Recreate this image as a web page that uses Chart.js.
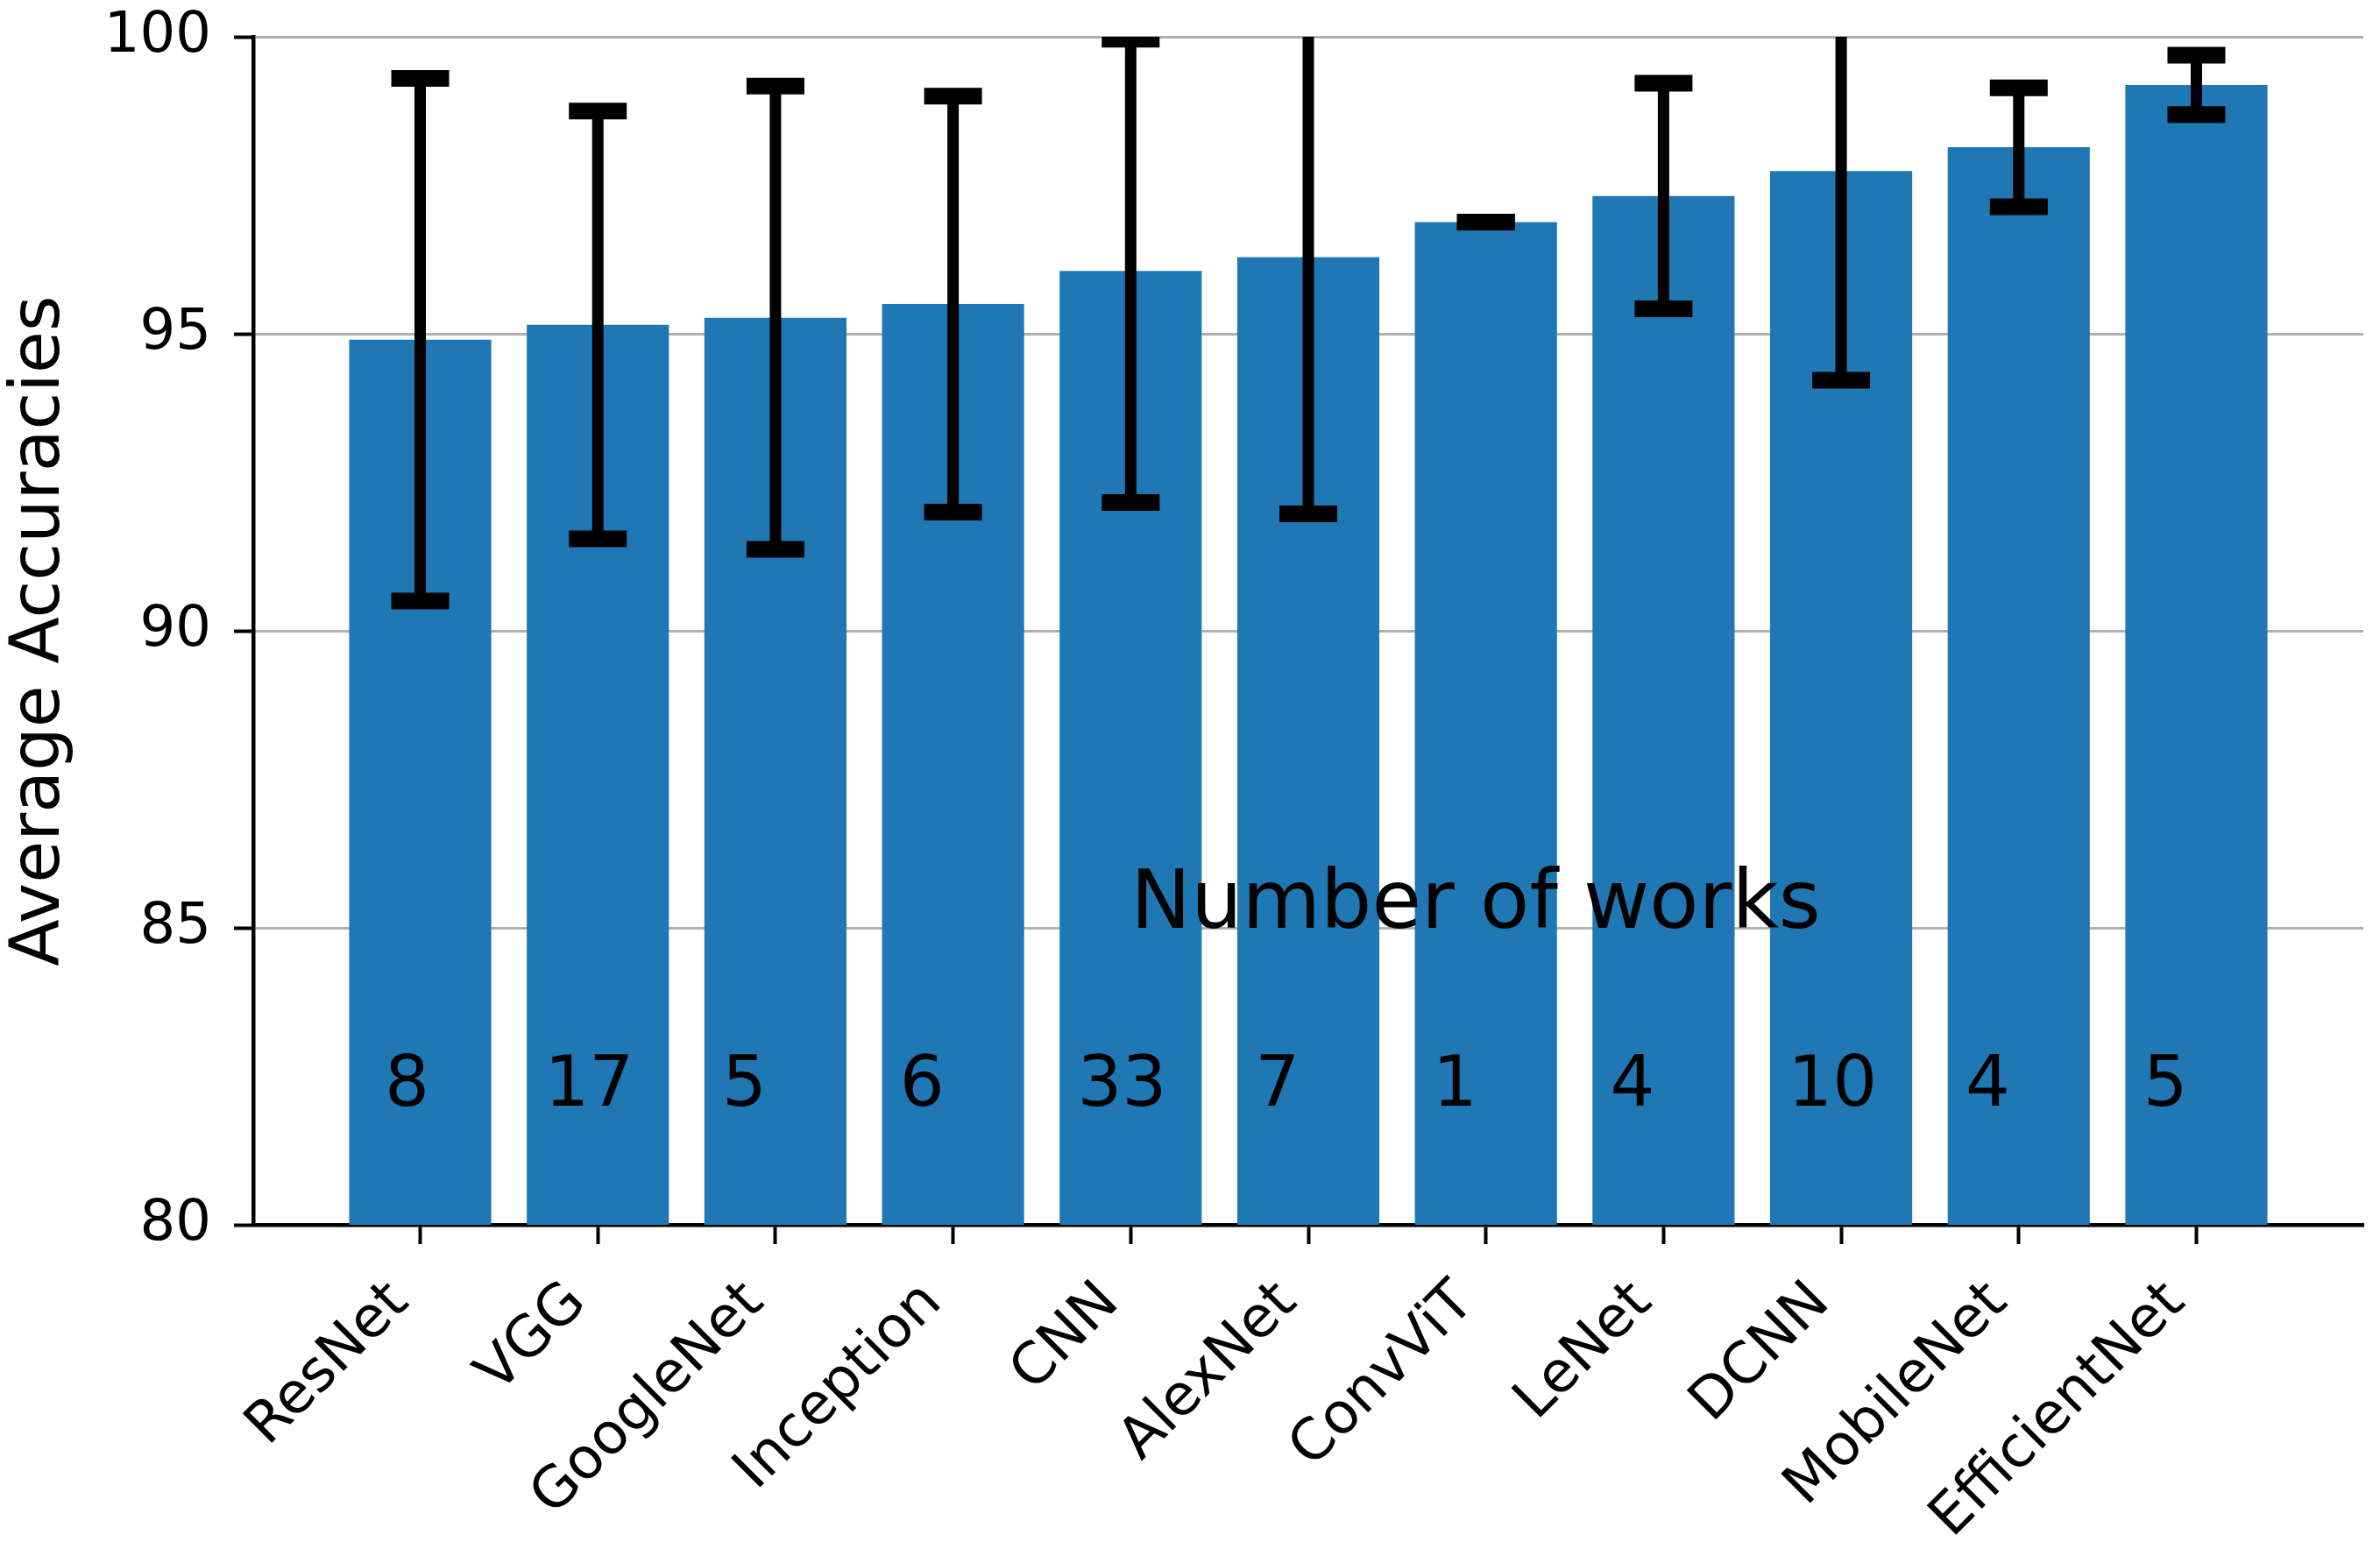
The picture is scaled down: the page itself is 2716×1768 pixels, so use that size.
<!DOCTYPE html>
<html>
<head>
<meta charset="utf-8">
<script src="https://cdn.jsdelivr.net/npm/chart.js@4.4.1/dist/chart.umd.min.js"></script>
<style>
  html, body { margin: 0; padding: 0; background: #ffffff; }
  canvas { display: block; }
</style>
</head>
<body>
<canvas id="c" width="2716" height="1768"></canvas>
<script>
// ---- data ----
const categories = ["ResNet", "VGG", "GoogleNet", "Inception", "CNN", "AlexNet", "ConvViT", "LeNet", "DCNN", "MobileNet", "EfficientNet"];
const meanAccuracy = [94.9, 95.15, 95.27, 95.5, 96.06, 96.29, 96.88, 97.32, 97.74, 98.14, 99.19];
const accuracyError = [4.4, 3.6, 3.9, 3.5, 3.9, 4.32, 0, 1.9, 3.52, 1.0, 0.5];
const workCounts = [8, 17, 5, 6, 33, 7, 1, 4, 10, 4, 5];
const yTicks = [80, 85, 90, 95, 100];
const annotationText = "Number of works";

// ---- styling ----
const FONT = '"DejaVu Sans", "Liberation Sans", sans-serif';
const BAR_COLOR = '#1f77b4';
const countShift = [-0.2, -0.3, -0.3, -0.3, -0.3, -0.3, -0.3, -0.3, -0.3, -0.3, -0.3];

const overlay = {
  id: 'overlay',
  afterDraw(chart) {
    const { ctx, chartArea, scales: { x, y } } = chart;
    ctx.save();
    ctx.beginPath();
    ctx.rect(chartArea.left, chartArea.top, chartArea.right - chartArea.left, chartArea.bottom - chartArea.top);
    ctx.clip();
    ctx.strokeStyle = '#000000';
    ctx.lineCap = 'butt';
    meanAccuracy.forEach((m, i) => {
      const px = x.getPixelForValue(i);
      const pTop = y.getPixelForValue(m + accuracyError[i]);
      const pBot = y.getPixelForValue(m - accuracyError[i]);
      ctx.lineWidth = 13;
      ctx.beginPath();
      ctx.moveTo(px, pTop);
      ctx.lineTo(px, pBot);
      ctx.stroke();
      ctx.lineWidth = 19;
      [pTop, pBot].forEach(cy => {
        ctx.beginPath();
        ctx.moveTo(px - 33, cy);
        ctx.lineTo(px + 33, cy);
        ctx.stroke();
      });
    });
    ctx.restore();

    ctx.save();
    ctx.fillStyle = '#000000';
    ctx.textAlign = 'left';
    ctx.textBaseline = 'alphabetic';
    ctx.font = '92px ' + FONT;
    ctx.fillText(annotationText, x.getPixelForValue(4), y.getPixelForValue(85));
    ctx.font = '80px ' + FONT;
    workCounts.forEach((n, i) => {
      ctx.fillText(String(n), x.getPixelForValue(i + countShift[i]), y.getPixelForValue(82));
    });
    ctx.restore();
  }
};

new Chart(document.getElementById('c'), {
  type: 'bar',
  data: {
    datasets: [{
      data: categories.map((c, i) => ({ x: i, y: meanAccuracy[i] })),
      backgroundColor: BAR_COLOR,
      borderWidth: 0,
      categoryPercentage: 1.0,
      barPercentage: 0.8
    }]
  },
  plugins: [overlay],
  options: {
    responsive: false,
    animation: false,
    devicePixelRatio: 1,
    layout: { padding: { left: 0, right: 19, top: 42, bottom: 0 } },
    plugins: { legend: { display: false }, tooltip: { enabled: false } },
    scales: {
      x: {
        type: 'linear',
        offset: false,
        min: -0.94,
        max: 10.94,
        z: 2,
        afterBuildTicks: (scale) => { scale.ticks = categories.map((c, i) => ({ value: i })); },
        afterFit: (scale) => { scale.height = 370; scale.paddingLeft = 0; scale.paddingRight = 0; },
        grid: { display: true, offset: false, drawOnChartArea: false, drawTicks: true, tickLength: 22, tickWidth: 4, tickColor: '#000000' },
        border: { display: true, color: '#000000', width: 4.5 },
        ticks: {
          autoSkip: false,
          minRotation: 45,
          maxRotation: 45,
          padding: 29,
          labelOffset: -23,
          color: '#000000',
          font: { family: FONT, size: 65 },
          callback: (v) => categories[v] ?? ''
        }
      },
      y: {
        min: 80,
        max: 100,
        z: 1,
        afterBuildTicks: (scale) => { scale.ticks = yTicks.map(v => ({ value: v })); },
        afterFit: (scale) => { scale.width = 289; scale.paddingTop = 0; scale.paddingBottom = 0; },
        grid: { display: true, drawOnChartArea: true, color: '#b0b0b0', lineWidth: 3, drawTicks: true, tickLength: 22, tickWidth: 4, tickColor: '#000000' },
        border: { display: true, color: '#000000', width: 4.5 },
        ticks: {
          padding: 26,
          color: '#000000',
          font: { family: FONT, size: 64 },
          callback: (v) => String(v)
        },
        title: {
          display: true,
          text: 'Average Accuracies',
          color: '#000000',
          font: { family: FONT, size: 78 },
          padding: { top: 0, bottom: 0 }
        }
      }
    }
  }
});
</script>
</body>
</html>
